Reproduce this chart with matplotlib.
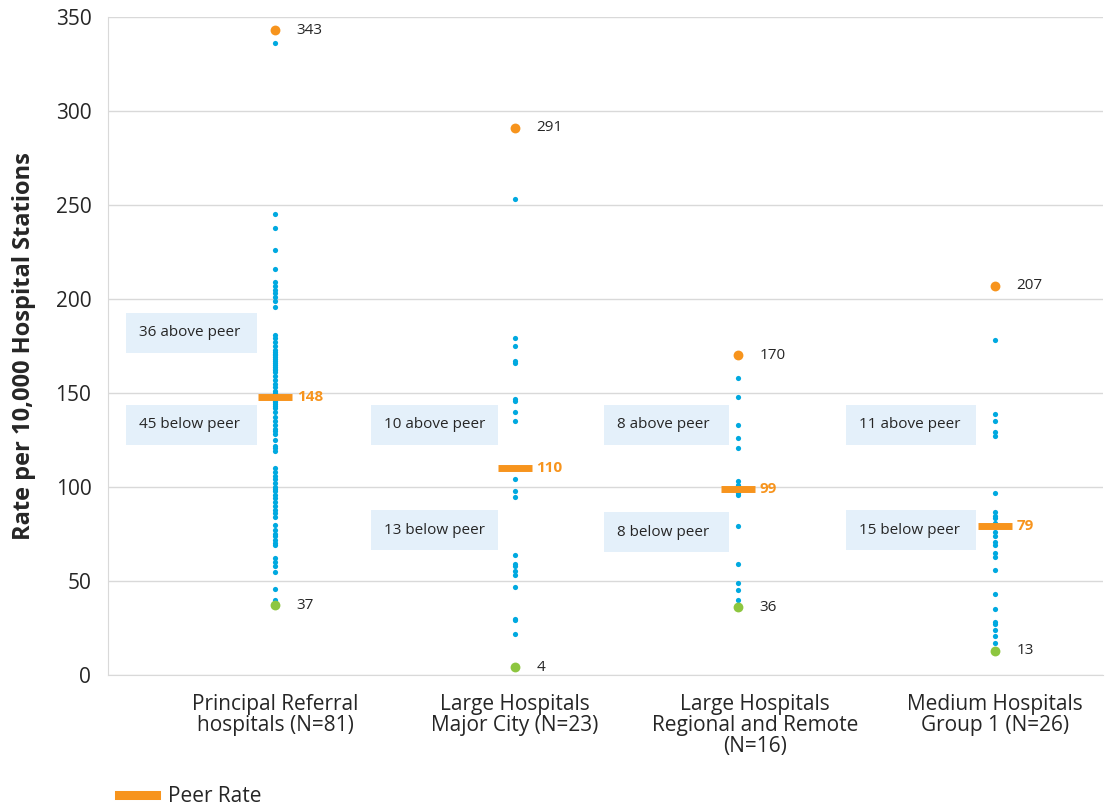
import matplotlib
matplotlib.use("Agg")
import matplotlib.pyplot as plt
from matplotlib.lines import Line2D

## data
groups = ["Principal Referral\nhospitals (N=81)",
          "Large Hospitals\nMajor City (N=23)",
          "Large Hospitals\nRegional and Remote\n(N=16)",
          "Medium Hospitals\nGroup 1 (N=26)"]
peer_rates = [148, 110, 99, 79]
max_vals = [343, 291, 170, 207]
min_vals = [37, 4, 36, 13]
above_counts = [36, 10, 8, 11]
below_counts = [45, 13, 8, 15]

principal = [336, 245, 238, 226, 216, 209, 207, 205, 203, 201, 199, 196,
             181, 179, 177, 175, 173, 172, 171, 170, 169, 168, 167, 166, 165,
             164, 163, 162, 161, 159, 157, 155, 153, 151, 150,
             146, 145, 144, 143, 142, 140, 137, 135, 133, 131, 130, 128, 125,
             122, 121, 119, 110, 108, 106, 104, 102, 100, 99, 98, 96, 94, 92,
             90, 88, 86, 84, 80, 77, 75, 74, 72, 70, 69, 62, 60, 58, 55, 46, 40]
major_city = [253, 179, 175, 167, 166, 147, 146, 140, 135,
              104, 98, 94.5, 64, 59, 58, 55.5, 53, 47, 30, 29, 22]
regional = [158, 148, 133, 126, 121, 103, 101,
            97, 96, 79, 59, 49, 45, 40]
medium = [178, 139, 135, 129, 127, 97, 86.5, 84.7, 83.4, 81,
          76, 74, 71, 69, 65, 63, 56, 43, 35, 28, 27, 24, 21, 17]
hospital_vals = [principal, major_city, regional, medium]

blue = "#00a9e0"
orange = "#f7941d"
green = "#8dc63f"
box_col = "#e4f0fa"
txt = "#262626"
font = "Open Sans"

fig = plt.figure(figsize=(11.06, 8.08), dpi=100)
ax = fig.add_axes([108 / 1106, 1 - 675 / 808, 995 / 1106, 658 / 808])

x_shift = [0, 0.0, -0.07, 0]
for i, vals in enumerate(hospital_vals):
    x = i + x_shift[i]
    ax.scatter([x] * len(vals), vals, s=14, color=blue, zorder=3, linewidths=0)
    ax.scatter([x], [max_vals[i]], s=50, color=orange, zorder=4, linewidths=0)
    ax.scatter([x], [min_vals[i]], s=50, color=green, zorder=4, linewidths=0)
    ax.plot([x], [peer_rates[i]], marker="_", markersize=24, mew=5,
            color=orange, zorder=5)
    ax.text(x + 0.09, max_vals[i], str(max_vals[i]), va="center", ha="left",
            fontsize=11, color=txt, family=font)
    ax.text(x + 0.09, min_vals[i], str(min_vals[i]), va="center", ha="left",
            fontsize=11, color=txt, family=font)
    ax.text(x + 0.09, peer_rates[i], str(peer_rates[i]), va="center", ha="left",
            fontsize=11, color=orange, fontweight="bold", family=font)

## boxes with counts above / below peer (left edge, y center)
above_pos = [(-0.62, 182), (0.4, 133), (1.37, 133), (2.38, 133)]
below_pos = [(-0.62, 133), (0.4, 77), (1.37, 76), (2.38, 77)]
box_w = [0.545, 0.53, 0.52, 0.54]
for i in range(4):
    for (bx, by), label in [(above_pos[i], f"{above_counts[i]} above peer"),
                            (below_pos[i], f"{below_counts[i]} below peer")]:
        ax.add_patch(plt.Rectangle((bx, by - 10.6), box_w[i], 21.2,
                                   facecolor=box_col, edgecolor="none", zorder=2))
        ax.text(bx + 0.055, by, label, va="center", ha="left", fontsize=11,
                color=txt, family=font, zorder=3)

ax.set_xlim(-0.696, 3.45)
ax.set_ylim(0, 350)
ax.set_yticks(range(0, 351, 50))
ax.yaxis.grid(True, color="#d9d9d9", lw=1)
ax.set_axisbelow(True)
ax.set_xticks(range(4))
ax.set_xticklabels(groups, fontsize=15, color=txt, family=font, linespacing=1.0)
ax.tick_params(axis="both", length=0)
ax.tick_params(axis="x", pad=14)
ax.tick_params(axis="y", pad=12)
for lab in ax.get_yticklabels():
    lab.set_fontsize(15)
    lab.set_color(txt)
    lab.set_family(font)
for s in ["top", "right"]:
    ax.spines[s].set_visible(False)
ax.spines["left"].set_color("#d9d9d9")
ax.spines["bottom"].set_color("#d9d9d9")
ax.set_ylabel("Rate per 10,000 Hospital Stations", fontsize=17, fontweight="bold",
              color=txt, family=font, labelpad=14)

handle = Line2D([], [], color=orange, lw=6.5)
fig.legend([handle], ["Peer Rate"], loc="lower left", bbox_to_anchor=(0.091, -0.022),
           frameon=False, handlelength=1.75, handletextpad=0.6,
           prop={"family": font, "size": 15}, labelcolor=txt)

fig.savefig("out.png", dpi=100)
